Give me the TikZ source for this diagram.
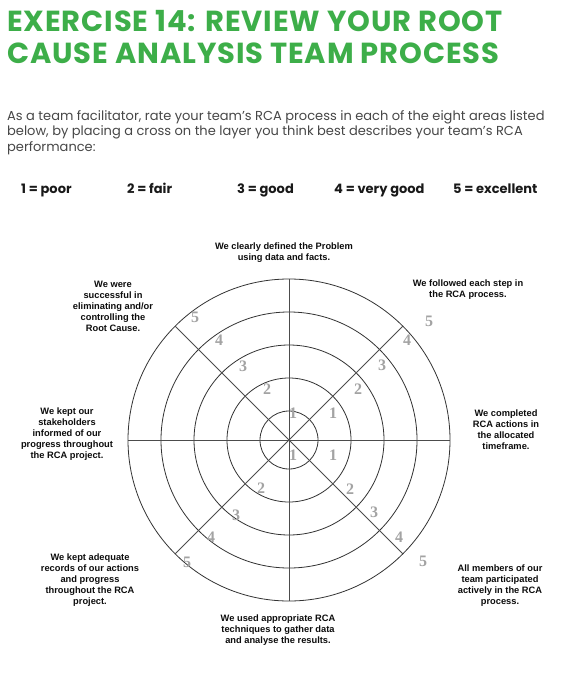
\documentclass[tikz,border=0pt]{standalone}
\usepackage{fontspec}
\setmainfont{Liberation Sans}
\newfontfamily\headfont{Poppins}
\newfontfamily\widehead[LetterSpace=3]{Poppins}
\newfontfamily\numfont{Liberation Serif}
\definecolor{rcagreen}{HTML}{3DAE49}
\definecolor{bodygray}{HTML}{474747}
\definecolor{numgray}{HTML}{A3A3A3}

\begin{document}
\begin{tikzpicture}[x=1pt, y=-1pt,
  heading/.style={anchor=base west, inner sep=0pt, text=rcagreen,
    font=\widehead\bfseries\fontsize{29}{29}\selectfont},
  intro/.style={anchor=base west, inner sep=0pt, text=bodygray,
    font=\headfont\fontsize{13}{15}\selectfont},
  ratekey/.style={anchor=base west, inner sep=0pt, text=black!90,
    font=\headfont\bfseries\fontsize{13}{15}\selectfont},
  area/.style={align=center, inner sep=0pt, text=black!95,
    font=\bfseries\fontsize{9.3}{11}\selectfont},
  ring/.style={draw=black!80, line width=0.8pt},
  spoke/.style={draw=black!70, line width=1pt},
  lvl/.style={text=numgray, inner sep=0pt,
    font=\numfont\bfseries\fontsize{16}{16}\selectfont}]
  \useasboundingbox[fill=white] (0,0) rectangle (571,676);

  % heading and instructions
  \node (title1) [heading] at (7,32) {EXERCISE 14: REVIEW YOUR ROOT};
  \node (title2) [heading] at (7,64) {CAUSE ANALYSIS TEAM PROCESS};
  \node (intro1) [intro] at (7,120.5) {As a team facilitator, rate your team’s RCA process in each of the eight areas listed};
  \node (intro2) [intro] at (7,136) {below, by placing a cross on the layer you think best describes your team’s RCA};
  \node (intro3) [intro] at (7,151.5) {performance:};

  % rating key
  \node (key1) [ratekey] at (21,193.5) {1 = poor};
  \node (key2) [ratekey] at (127,193.5) {2 = fair};
  \node (key3) [ratekey] at (237,193.5) {3 = good};
  \node (key4) [ratekey] at (334,193.5) {4 = very good};
  \node (key5) [ratekey] at (453,193.5) {5 = excellent};

  % the target
  \coordinate (hub) at (289,440);
  \foreach \r in {29,62,95,128,161}
    \draw[ring] (hub) circle (\r pt);
  \foreach \a in {0,45,...,315}
    \draw[spoke] (hub) -- ++(\a:161pt);

  % layer numbers
  \foreach \n/\px/\py [count=\i] in {
      5/195/317, 4/219/340, 3/243/366, 2/267/389, 1/293/413,
      1/333/413, 2/358/389, 3/382/365, 4/407/340, 5/429/321,
      1/333/455, 2/350/489, 3/374/512, 4/399/537, 5/423/561,
      1/293/455, 2/261/488, 3/236/515, 4/211/537, 5/187/562}
    \node (lvl\i) [lvl] at (\px,\py) {\n};

  % the eight areas
  \node (defined) [area] at (284,253) {We clearly defined the Problem\\using data and facts.};
  \node (followed) [area] at (468,289.5) {We followed each step in\\the RCA process.};
  \node (completed) [area] at (506,430) {We completed\\RCA actions in\\the allocated\\timeframe.};
  \node (members) [area] at (500,585.5) {All members of our\\team participated\\actively in the RCA\\process.};
  \node (techniques) [area] at (278,630) {We used appropriate RCA\\techniques to gather data\\and analyse the results.};
  \node (records) [area] at (90,580.5) {We kept adequate\\records of our actions\\and progress\\throughout the RCA\\project.};
  \node (informed) [area] at (67,434.5) {We kept our\\stakeholders\\informed of our\\progress throughout\\the RCA project.};
  \node (eliminated) [area] at (113,306.5) {We were\\successful in\\eliminating and/or\\controlling the\\Root Cause.};
\end{tikzpicture}
\end{document}
